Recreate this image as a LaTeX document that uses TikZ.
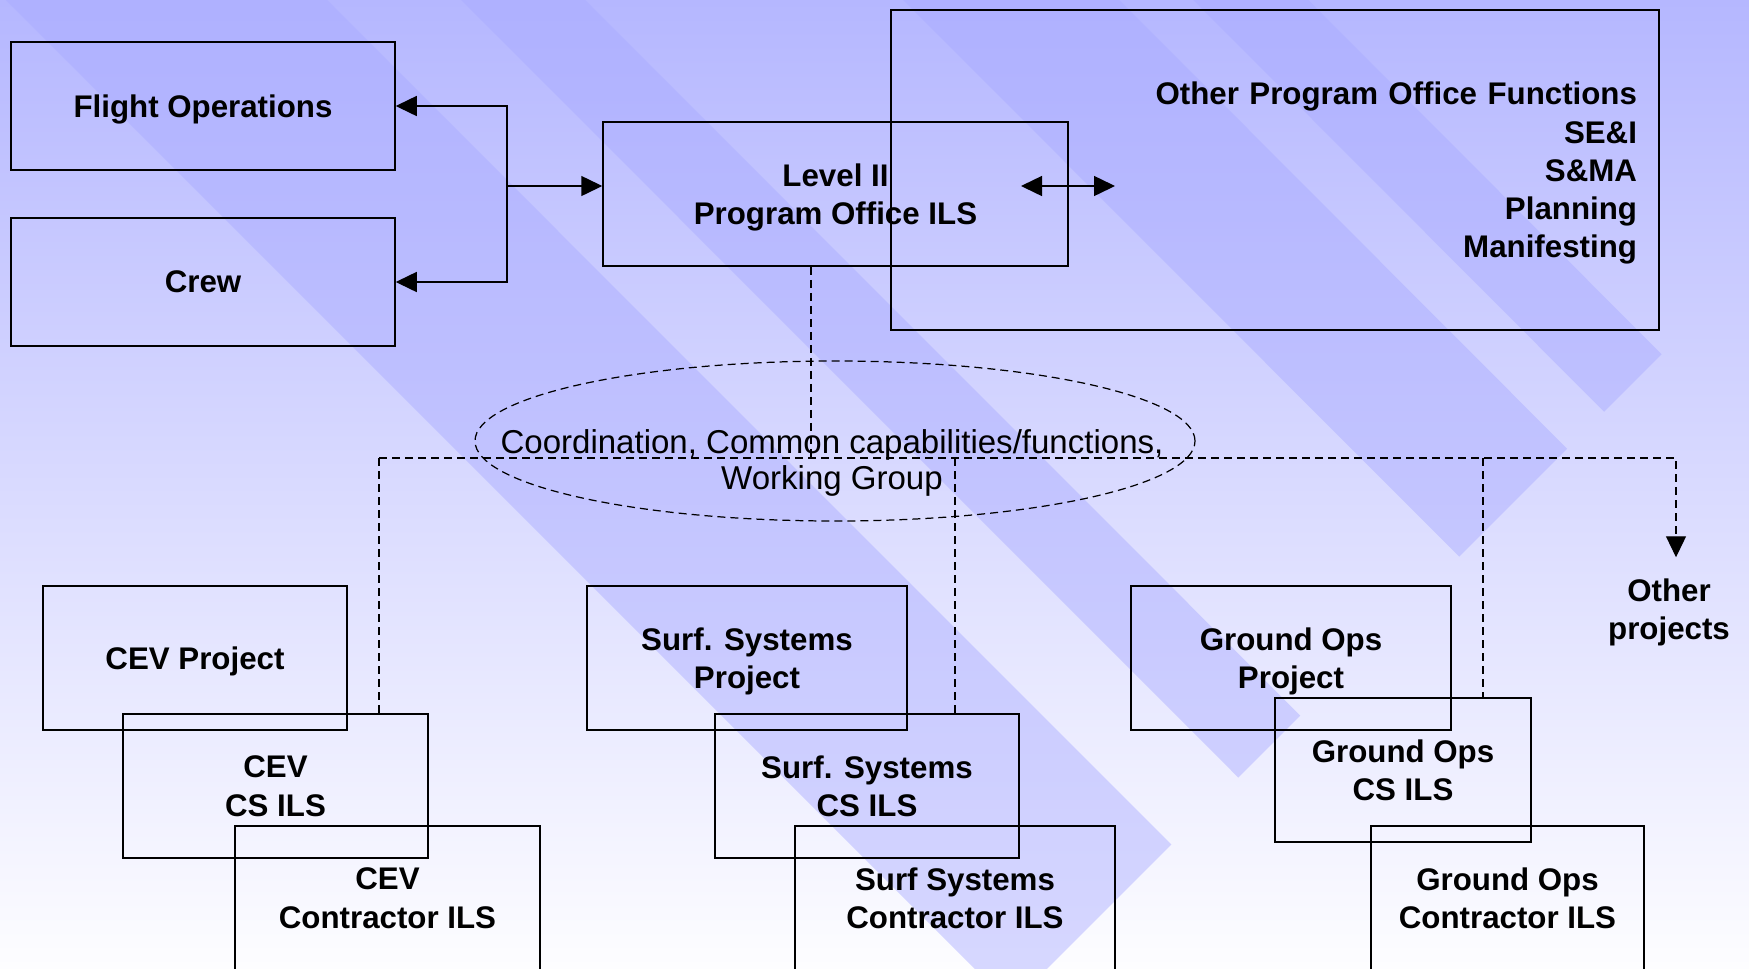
\documentclass[tikz,border=0pt]{standalone}
\usepackage{fontspec}
\setmainfont{Liberation Sans}
\usetikzlibrary{positioning,shapes.geometric,arrows.meta}
\definecolor{bgtop}{RGB}{181,183,255}
\definecolor{bgbot}{RGB}{253,253,255}
\definecolor{stripe}{RGB}{168,170,255}
\tikzset{>={Triangle[length=0.42cm,width=0.4cm]}}
\tikzset{
  ilsbox/.style={draw, line width=0.85pt, inner sep=0pt, minimum height=2.88cm, text depth=0pt, align=center, font=\fontsize{17.8}{21.7}\selectfont\bfseries},
  wkring/.style={draw, ellipse, line width=0.7pt, dash pattern=on 0.16cm off 0.1cm, minimum width=14.4cm, minimum height=3.2cm, inner sep=0pt},
  link/.style={line width=0.85pt},
  dotlink/.style={line width=0.7pt, dash pattern=on 0.16cm off 0.1cm},
  band/.style={fill=stripe, fill opacity=0.45}
}

\begin{document}
\begin{tikzpicture}
      \useasboundingbox (0,0) rectangle (34.98,-19.36);
      % slide background
      \begin{scope}
        \clip (0,0) rectangle (34.98,-19.36);
        \shade[top color=bgtop, bottom color=bgbot] (0,0) rectangle (34.98,-19.36);
        \foreach \da/\db in {6/327, 461/585, 903/1119, 1193/1308}
          \fill[band] (\da*0.02,0) -- (\db*0.02,0) -- ({(2017+\db)*0.01},{-(2017-\db)*0.01}) -- ({(2017+\da)*0.01},{-(2017-\da)*0.01}) -- cycle;
      \end{scope}
      \node[ilsbox, minimum width=7.68cm, minimum height=2.56cm] (fltops) at (4.06,-2.12) {Flight Operations};
      \node[ilsbox, minimum width=7.68cm, minimum height=2.56cm, below of=fltops, node distance=3.52cm] (crew) {Crew};
      \node[ilsbox, minimum width=9.3cm] (lvltwo) at (16.71,-3.88) {Level II\\Program Office ILS};
      \node[ilsbox, minimum width=15.36cm, minimum height=6.4cm, text width=14.48cm, text height=0.58cm, text depth={}, inner sep=0.44cm, align=right] (othfn) at (25.5,-3.4) {Other Program Office Functions\\SE\&I\\S\&MA\\Planning\\Manifesting};
      \node[wkring] (wkgrp) at (16.7,-8.82) {};
      \node[align=center, text depth=0pt, font=\fontsize{18.8}{21}\selectfont] (wkgrptxt) at (16.64,-9.19) {Coordination, Common capabilities/functions,\\Working Group};
      \node[ilsbox, minimum width=6.08cm] (cevproj) at (3.9,-13.16) {CEV Project};
      \node[ilsbox, minimum width=6.4cm, right of=cevproj, node distance=11.04cm] (surfproj) {Surf. Systems\\Project};
      \node[ilsbox, minimum width=6.4cm, right of=surfproj, node distance=10.88cm] (goproj) {Ground Ops\\Project};
      \node[ilsbox, minimum width=6.1cm] (cevcs) at (5.51,-15.72) {CEV\\CS ILS};
      \node[ilsbox, minimum width=6.08cm] (surfcs) at (17.34,-15.72) {Surf. Systems\\CS ILS};
      \node[ilsbox, minimum width=5.12cm] (gocs) at (28.06,-15.4) {Ground Ops\\CS ILS};
      \node[ilsbox, minimum width=6.1cm] (cevctr) at (7.75,-17.96) {CEV\\Contractor ILS};
      \node[ilsbox, minimum width=6.4cm] (surfctr) at (19.1,-17.96) {Surf Systems\\Contractor ILS};
      \node[ilsbox, minimum width=5.46cm] (goctr) at (30.15,-17.96) {Ground Ops\\Contractor ILS};
      \node[align=center, inner sep=0pt, text depth=0pt, font=\fontsize{17.8}{21.7}\selectfont\bfseries] (othproj) at (33.38,-12.18) {Other\\projects};
      \coordinate (aux1) at (10.14,-3.72);
      \draw[link,->] (aux1) -- (aux1 -| lvltwo.west);
      \draw[link,->] (aux1) |- (fltops.east);
      \draw[link,->] (aux1) |- (crew.east);
      \coordinate (aux2) at (20.42,-3.72);
      \coordinate (aux3) at (22.3,-3.72);
      \draw[link,<->] (aux2) -- (aux3);
      \coordinate (aux4) at (16.22,-9.16);
      \draw[dotlink] (lvltwo.south -| aux4) -- (aux4);
      \coordinate (aux5) at (7.58,-9.16);
      \coordinate (aux6) at (33.52,-9.16);
      \draw[dotlink,->,shorten >=0.42cm] (aux5) -- (aux6) -- (aux6 |- othproj.north);
      \draw[dotlink] (aux5) -- (aux5 |- cevcs.north);
      \coordinate (aux7) at (19.1,-9.16);
      \draw[dotlink] (aux7) -- (aux7 |- surfcs.north);
      \coordinate (aux8) at (29.66,-9.16);
      \draw[dotlink] (aux8) -- (aux8 |- gocs.north);
    \end{tikzpicture}
\end{document}
